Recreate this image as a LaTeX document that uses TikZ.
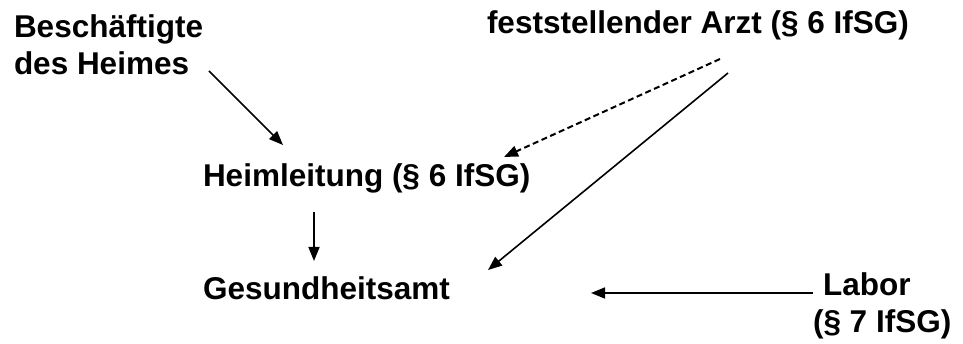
\documentclass[tikz,border=0pt]{standalone}
\usepackage{fontspec}
\setmainfont{Liberation Sans}
\usetikzlibrary{arrows.meta}
\begin{document}
\begin{tikzpicture}[x=1pt,y=-1pt,
  lbl/.style={inner sep=0pt,outer sep=0pt,anchor=base west,align=left,
    font=\fontsize{31.5}{37}\selectfont\bfseries},
  conn/.style={line width=1.6pt,-{Triangle[length=14pt,width=11pt]}},
  dconn/.style={conn,line width=2pt,dash pattern=on 6pt off 3.5pt}]
\useasboundingbox (0,0) rectangle (963,344);
\node[lbl] (besch) at (14,75) {Beschäftigte\\des Heimes};
\node[lbl] (arzt) at (487,34) {feststellender Arzt (§ 6 IfSG)};
\node[lbl] (heim) at (203,187) {Heimleitung (§ 6 IfSG)};
\node[lbl] (gesund) at (203,300) {Gesundheitsamt};
\node[lbl] (labor) at (813,333) {\hspace{10pt}Labor\\(§ 7 IfSG)};
\coordinate (b1) at (209,71);
\coordinate (b2) at (283,145);
\coordinate (d1) at (720,59);
\coordinate (d2) at (504,157);
\coordinate (s1) at (728,73);
\coordinate (s2) at (488,270);
\coordinate (h1) at (314,212);
\coordinate (h2) at (314,261);
\coordinate (l1) at (813,293);
\coordinate (l2) at (591,293);
\draw[conn] (b1) -- (b2);
\draw[dconn] (d1) -- (d2);
\draw[conn] (s1) -- (s2);
\draw[conn] (h1) -- (h2);
\draw[conn] (l1) -- (l2);
\end{tikzpicture}
\end{document}
